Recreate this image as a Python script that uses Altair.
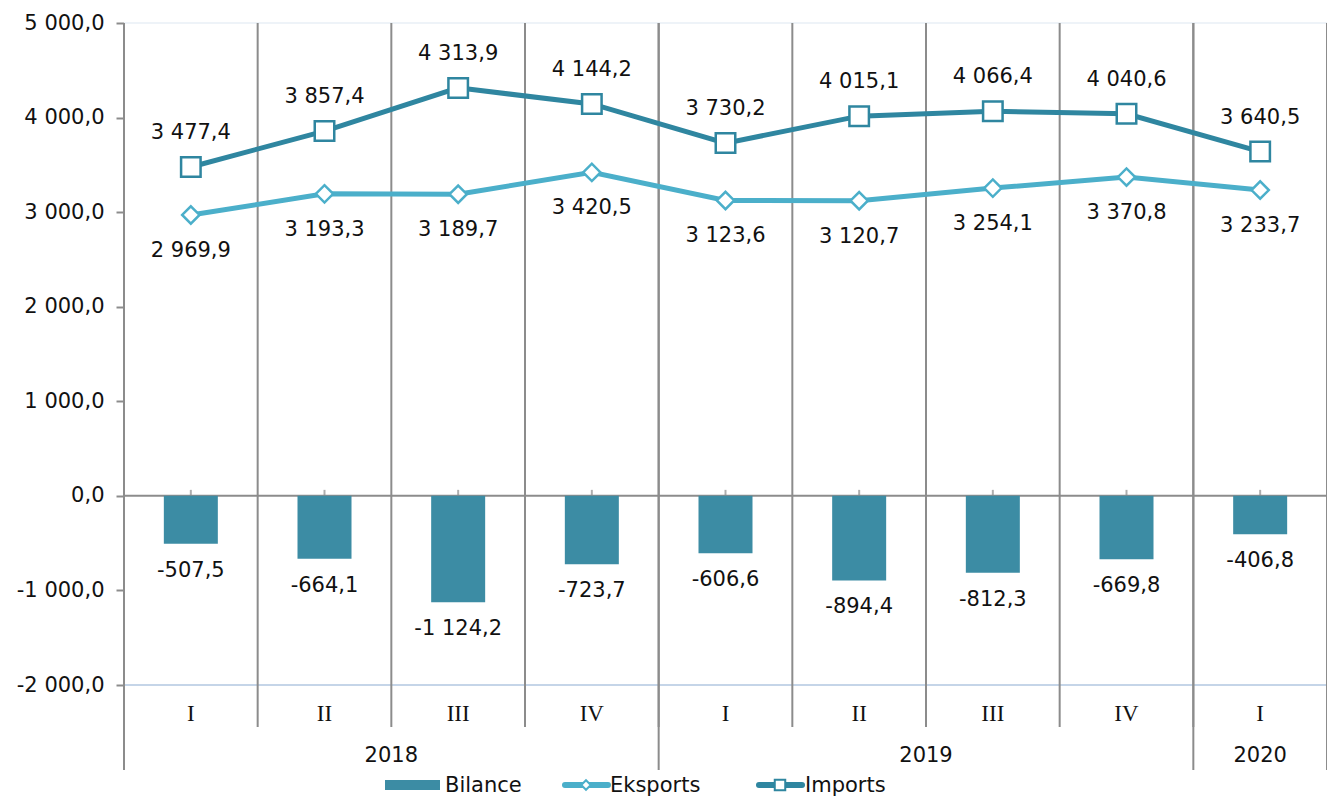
import altair as alt
import pandas as pd

quarters = ["I", "II", "III", "IV", "I", "II", "III", "IV", "I"]
years = ["2018", "2018", "2018", "2018", "2019", "2019", "2019", "2019", "2020"]
imports = [3477.4, 3857.4, 4313.9, 4144.2, 3730.2, 4015.1, 4066.4, 4040.6, 3640.5]
eksports = [2969.9, 3193.3, 3189.7, 3420.5, 3123.6, 3120.7, 3254.1, 3370.8, 3233.7]
bilance = [-507.5, -664.1, -1124.2, -723.7, -606.6, -894.4, -812.3, -669.8, -406.8]
y_ticks = [-2000, -1000, 0, 1000, 2000, 3000, 4000, 5000]


def fmt(v):
    s = f"{abs(v):,.1f}".replace(",", " ").replace(".", ",")
    return ("-" if v < 0 else "") + s


df = pd.DataFrame({
    "idx": list(range(len(quarters))),
    "quarter": quarters,
    "year": years,
    "imports": imports,
    "eksports": eksports,
    "bilance": bilance,
    "imp_lbl": [fmt(v) for v in imports],
    "eks_lbl": [fmt(v) for v in eksports],
    "bil_lbl": [fmt(v) for v in bilance],
})

W, H = 1203, 662
C_IMP = "#2F86A0"
C_EKS = "#4BAFCA"
C_BAR = "#3C8CA4"
GRAY = "#8C8C8C"
FONT = "DejaVu Sans"
FS = 21

xs = alt.Scale(domain=[-0.5, len(quarters) - 0.5], nice=False, zero=False, padding=0)
ys = alt.Scale(domain=[-2000, 5000], nice=False, padding=0)

label_expr = ("replace(replace(replace(format(datum.value, ',.1f'), ',', ' '), '.', ','), '\u2212', '-')")
YAX = alt.Axis(
    values=y_ticks, labelExpr=label_expr, grid=False, domain=False,
    tickColor=GRAY, tickSize=8, tickWidth=2, labelPadding=12,
    labelFont=FONT, labelFontSize=FS, labelColor="#111", title=None)


def X(f):
    return alt.X(f, scale=xs, axis=None)


def Y(f):
    return alt.Y(f, scale=ys, axis=YAX)


base = alt.Chart(df)

bounds = pd.DataFrame({"b": [i - 0.5 for i in range(len(quarters) + 1)]})
year_b = pd.DataFrame({"b": [-0.5, 3.5, 7.5, 8.5]})

q_rules = alt.Chart(bounds).mark_rule(color=GRAY, strokeWidth=2).encode(
    x=X("b:Q"), y=alt.value(0), y2=alt.value(H + 42),
)
y_rules = alt.Chart(year_b).mark_rule(color=GRAY, strokeWidth=2).encode(
    x=X("b:Q"), y=alt.value(0), y2=alt.value(H + 85),
)

hl = pd.DataFrame({"v": [5000, -2000, 0], "c": ["#EEF3F8", "#C5D5E8", GRAY]})
h_rules = alt.Chart(hl).mark_rule(strokeWidth=2).encode(
    y=Y("v:Q"), x=alt.value(0), x2=alt.value(W),
    color=alt.Color("c:N", scale=None),
)

zero_ticks = base.transform_calculate(z="0").mark_tick(
    orient="vertical", size=6, thickness=2, color=GRAY, yOffset=-3).encode(
    x=X("idx:Q"), y=Y("z:Q"),
)

bars = base.mark_bar(size=54, color=C_BAR).encode(x=X("idx:Q"), y=Y("bilance:Q"))
bar_lbl = base.mark_text(dy=27, font=FONT, fontSize=FS, color="#111").encode(
    x=X("idx:Q"), y=Y("bilance:Q"), text="bil_lbl:N")

eks_line = base.mark_line(color=C_EKS, strokeWidth=5).encode(x=X("idx:Q"), y=Y("eksports:Q"))
eks_pts = base.mark_point(shape="diamond", size=300, filled=True, fill="white",
                          stroke=C_EKS, strokeWidth=2.5, opacity=1).encode(
    x=X("idx:Q"), y=Y("eksports:Q"))
eks_lbl = base.mark_text(dy=36, font=FONT, fontSize=FS, color="#111").encode(
    x=X("idx:Q"), y=Y("eksports:Q"), text="eks_lbl:N")

imp_line = base.mark_line(color=C_IMP, strokeWidth=5).encode(x=X("idx:Q"), y=Y("imports:Q"))
imp_pts = base.mark_point(shape="square", size=380, filled=True, fill="white",
                          stroke=C_IMP, strokeWidth=2.5, opacity=1).encode(
    x=X("idx:Q"), y=Y("imports:Q"))
imp_lbl = base.mark_text(dy=-34, font=FONT, fontSize=FS, color="#111").encode(
    x=X("idx:Q"), y=Y("imports:Q"), text="imp_lbl:N")

q_lbl = base.mark_text(font="Liberation Serif", fontSize=23, color="#111").encode(
    x=X("idx:Q"), y=alt.value(H + 29), text="quarter:N")
yr_lbl = base.transform_aggregate(center="mean(idx)", groupby=["year"]).mark_text(
    font=FONT, fontSize=FS, color="#111").encode(
    x=X("center:Q"), y=alt.value(H + 71), text="year:N")

# legend
LY = H + 100
leg = pd.DataFrame({"name": ["Bilance", "Eksports", "Imports"]})
lb = alt.Chart(leg)
leg_bar = lb.transform_filter("datum.name == 'Bilance'").mark_rect(color=C_BAR).encode(
    x=alt.value(261), x2=alt.value(316), y=alt.value(LY - 5), y2=alt.value(LY + 5))
leg_eks_line = lb.transform_filter("datum.name == 'Eksports'").mark_rule(
    color=C_EKS, strokeWidth=6, strokeCap="round").encode(
    x=alt.value(441), x2=alt.value(484), y=alt.value(LY))
leg_eks_pt = lb.transform_filter("datum.name == 'Eksports'").mark_point(
    shape="diamond", size=90, filled=True, fill="white", stroke=C_EKS, strokeWidth=2, opacity=1).encode(
    x=alt.value(462), y=alt.value(LY))
leg_imp_line = lb.transform_filter("datum.name == 'Imports'").mark_rule(
    color=C_IMP, strokeWidth=6, strokeCap="round").encode(
    x=alt.value(635), x2=alt.value(678), y=alt.value(LY))
leg_imp_pt = lb.transform_filter("datum.name == 'Imports'").mark_point(
    shape="square", size=110, filled=True, fill="white", stroke=C_IMP, strokeWidth=2, opacity=1).encode(
    x=alt.value(656), y=alt.value(LY))
leg_t1 = lb.transform_filter("datum.name == 'Bilance'").mark_text(
    align="left", font=FONT, fontSize=FS, color="#111").encode(
    x=alt.value(321), y=alt.value(LY + 1), text="name:N")
leg_t2 = lb.transform_filter("datum.name == 'Eksports'").mark_text(
    align="left", font=FONT, fontSize=FS, color="#111").encode(
    x=alt.value(486), y=alt.value(LY + 1), text="name:N")
leg_t3 = lb.transform_filter("datum.name == 'Imports'").mark_text(
    align="left", font=FONT, fontSize=FS, color="#111").encode(
    x=alt.value(681), y=alt.value(LY + 1), text="name:N")

chart = alt.layer(
    h_rules, q_rules, y_rules, zero_ticks, bars, bar_lbl,
    eks_line, eks_pts, eks_lbl, imp_line, imp_pts, imp_lbl,
    q_lbl, yr_lbl,
    leg_bar, leg_eks_line, leg_eks_pt, leg_imp_line, leg_imp_pt, leg_t1, leg_t2, leg_t3,
).properties(
    width=W, height=H,
    autosize=alt.AutoSizeParams(type="none"),
    padding={"left": 116, "top": 15, "right": 0, "bottom": 113},
).configure_view(stroke=None)

chart.save("out.html", embed_options={"renderer": "svg", "actions": False})
